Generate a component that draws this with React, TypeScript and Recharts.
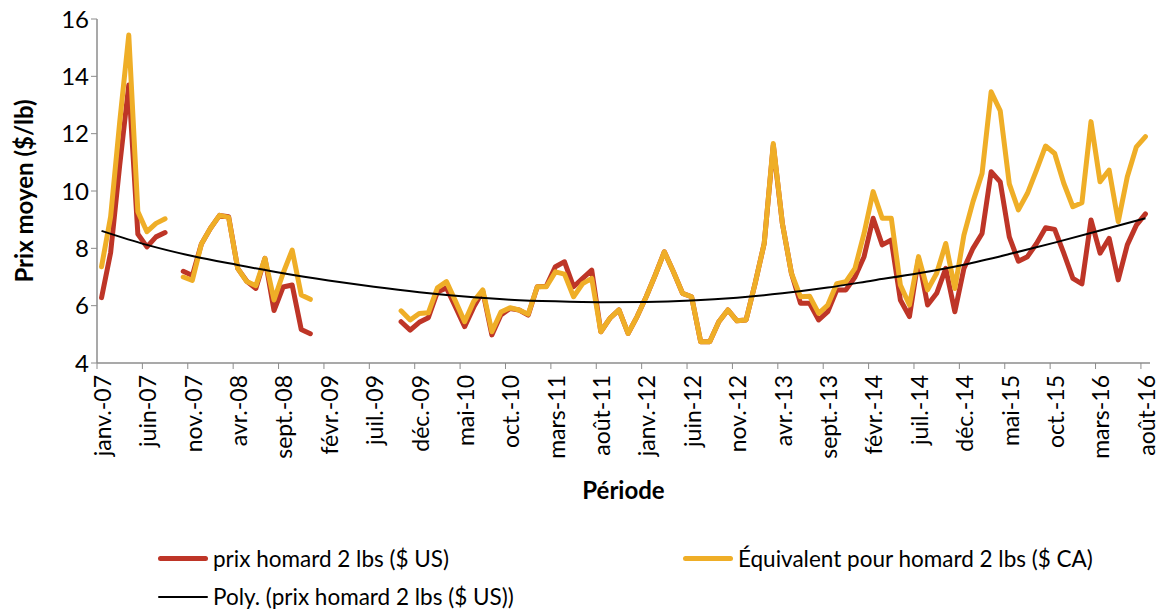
import React from "react";
import { LineChart, Line, XAxis, YAxis, Label } from "recharts";

// Monthly categories janv.-07 .. août-16 (116 months)
const MONTHS = ["janv.", "févr.", "mars", "avr.", "mai", "juin", "juil.", "août", "sept.", "oct.", "nov.", "déc."];
const START_YEAR = 2007;
const N_MONTHS = 116;

// prix homard 2 lbs ($ US) - null where no data
const PRICE_US: (number | null)[] = [
  6.28, 7.85, 10.9, 13.7, 8.5, 8.05, 8.4, 8.55, null, 7.2,
  7.05, 8.15, 8.7, 9.15, 9.1, 7.3, 6.85, 6.6, 7.65, 5.83,
  6.65, 6.72, 5.17, 5.02, null, null, null, null, null, null,
  null, null, null, 5.44, 5.15, 5.42, 5.58, 6.48, 6.62, 5.95,
  5.27, 5.95, 6.5, 4.98, 5.68, 5.9, 5.85, 5.67, 6.66, 6.68,
  7.36, 7.53, 6.66, 6.95, 7.24, 5.09, 5.56, 5.85, 5.03, 5.62,
  6.31, 7.07, 7.88, 7.18, 6.43, 6.31, 4.74, 4.74, 5.44, 5.85,
  5.47, 5.5, 6.78, 8.17, 11.6, 8.87, 7.13, 6.08, 6.08, 5.5,
  5.79, 6.55, 6.55, 7.0, 7.71, 9.05, 8.12, 8.29, 6.2, 5.62,
  7.65, 6.02, 6.43, 7.3, 5.79, 7.3, 8.0, 8.52, 10.67, 10.32,
  8.4, 7.55, 7.71, 8.17, 8.72, 8.66, 7.83, 6.95, 6.76, 8.99,
  7.83, 8.35, 6.9, 8.12, 8.81, 9.2,
];

// Équivalent pour homard 2 lbs ($ CA)
const PRICE_CA: (number | null)[] = [
  7.36, 9.1, 12.4, 15.44, 9.28, 8.58, 8.87, 9.03, null, 7.0,
  6.88, 8.15, 8.7, 9.15, 9.08, 7.3, 6.84, 6.7, 7.65, 6.2,
  7.13, 7.94, 6.37, 6.22, null, null, null, null, null, null,
  null, null, null, 5.82, 5.5, 5.73, 5.75, 6.62, 6.84, 6.15,
  5.44, 6.15, 6.55, 5.09, 5.78, 5.93, 5.85, 5.7, 6.66, 6.66,
  7.18, 7.1, 6.31, 6.77, 6.95, 5.09, 5.56, 5.85, 5.03, 5.62,
  6.31, 7.07, 7.88, 7.18, 6.43, 6.31, 4.74, 4.74, 5.44, 5.85,
  5.47, 5.5, 6.78, 8.17, 11.66, 8.87, 7.13, 6.31, 6.33, 5.73,
  6.02, 6.77, 6.84, 7.3, 8.52, 9.98, 9.05, 9.05, 6.72, 6.02,
  7.71, 6.55, 7.13, 8.17, 6.6, 8.46, 9.63, 10.61, 13.46, 12.8,
  10.25, 9.34, 9.92, 10.73, 11.57, 11.31, 10.27, 9.45, 9.59, 12.42,
  10.32, 10.73, 8.93, 10.5, 11.54, 11.9,
];

// Poly. trend read every 5 months (index 0, 5, ... 115)
const TREND_EVERY_5 = [
  8.61, 8.12, 7.73, 7.42, 7.13, 6.88, 6.66, 6.47, 6.32, 6.21,
  6.15, 6.12, 6.13, 6.18, 6.28, 6.43, 6.63, 6.88, 7.13, 7.43,
  7.8, 8.2, 8.62, 9.05,
];

const Y_TICKS = [4, 6, 8, 10, 12, 14, 16];
const X_TICKS = TREND_EVERY_5.map((_, k) => k * 5);

const RED = "#BE3527";
const YELLOW = "#EFAE27";
const AXIS = "#8C8C8C";
const FONT = "Lato, 'Open Sans', sans-serif";

const CHART_W = 1165;
const CHART_H = 613;
const PLOT_LEFT = 97;
const PLOT_RIGHT = 1150;
const PLOT_TOP = 19;
const PLOT_BOTTOM = 363;
const STEP = (PLOT_RIGHT - PLOT_LEFT) / N_MONTHS;

function monthLabel(i: number) {
  const m = i % 12;
  const y = START_YEAR + Math.floor(i / 12);
  return `${MONTHS[m]}-${String(y % 100).padStart(2, "0")}`;
}

const data = Array.from({ length: N_MONTHS }, (_, i) => ({
  i,
  us: PRICE_US[i],
  ca: PRICE_CA[i],
  trend: i % 5 === 0 ? TREND_EVERY_5[i / 5] : null,
}));

// x tick: label at the category centre, tick mark on the category boundary
function MonthTick(props: any) {
  const { x, payload } = props;
  const bx = x - STEP / 2;
  const ty = PLOT_BOTTOM + 12;
  return (
    <g>
      <line x1={bx} y1={PLOT_BOTTOM} x2={bx} y2={PLOT_BOTTOM + 6} stroke={AXIS} strokeWidth={1} />
      <text
        x={x + 1}
        y={ty}
        transform={`rotate(-90, ${x + 1}, ${ty})`}
        textAnchor="end"
        dy="0.36em"
        fontSize={23}
        fontFamily={FONT}
        fill="#000"
      >
        {monthLabel(payload.value)}
      </text>
    </g>
  );
}

function LegendItem({ color, width, label }: { color: string; width: number; label: string }) {
  return (
    <div style={{ display: "flex", alignItems: "center" }}>
      <div style={{ width: 50, height: width, background: color, borderRadius: width / 2, marginRight: 5 }} />
      <span style={{ fontSize: 22.5, fontFamily: FONT, color: "#000", whiteSpace: "nowrap" }}>{label}</span>
    </div>
  );
}

export default function App() {
  return (
    <div style={{ position: "absolute", left: 0, top: 0, width: CHART_W, height: CHART_H, background: "#fff" }}>
      <LineChart
        width={CHART_W}
        height={CHART_H}
        data={data}
        margin={{ top: PLOT_TOP, right: CHART_W - PLOT_RIGHT, left: 0, bottom: 0 }}
      >
        <XAxis
          dataKey="i"
          type="number"
          domain={[-0.5, N_MONTHS - 0.5]}
          ticks={X_TICKS}
          interval={0}
          height={CHART_H - PLOT_BOTTOM}
          axisLine={{ stroke: AXIS, strokeWidth: 1.5 }}
          tickLine={false}
          tick={<MonthTick />}
        >
          <Label
            value="Période"
            position="insideTop"
            offset={119}
            style={{ fontSize: 24, fontWeight: 700, fontFamily: FONT, fill: "#000" }}
          />
        </XAxis>
        <YAxis
          type="number"
          domain={[4, 16]}
          ticks={Y_TICKS}
          width={PLOT_LEFT}
          axisLine={{ stroke: AXIS, strokeWidth: 1.5 }}
          tickLine={{ stroke: AXIS }}
          tickSize={6}
          tick={{ fontSize: 24, fontFamily: FONT, fill: "#000" }}
        >
          <Label
            value="Prix moyen ($/lb)"
            angle={-90}
            position="insideLeft"
            offset={24}
            style={{ fontSize: 24, fontWeight: 700, fontFamily: FONT, fill: "#000", textAnchor: "middle" }}
          />
        </YAxis>
        <Line
          dataKey="us"
          name="prix homard 2 lbs ($ US)"
          stroke={RED}
          strokeWidth={5}
          dot={false}
          type="linear"
          strokeLinejoin="round"
          strokeLinecap="round"
          isAnimationActive={false}
        />
        <Line
          dataKey="ca"
          name="Équivalent pour homard 2 lbs ($ CA)"
          stroke={YELLOW}
          strokeWidth={5}
          dot={false}
          type="linear"
          strokeLinejoin="round"
          strokeLinecap="round"
          isAnimationActive={false}
        />
        <Line
          dataKey="trend"
          name="Poly. (prix homard 2 lbs ($ US))"
          stroke="#000"
          strokeWidth={2}
          dot={false}
          type="monotone"
          connectNulls
          isAnimationActive={false}
        />
      </LineChart>
      <div style={{ position: "absolute", left: 158, top: 545 }}>
        <LegendItem color={RED} width={5} label="prix homard 2 lbs ($ US)" />
      </div>
      <div style={{ position: "absolute", left: 683, top: 545 }}>
        <LegendItem color={YELLOW} width={5} label="Équivalent pour homard 2 lbs ($ CA)" />
      </div>
      <div style={{ position: "absolute", left: 158, top: 583 }}>
        <LegendItem color="#000" width={2} label="Poly. (prix homard 2 lbs ($ US))" />
      </div>
    </div>
  );
}
